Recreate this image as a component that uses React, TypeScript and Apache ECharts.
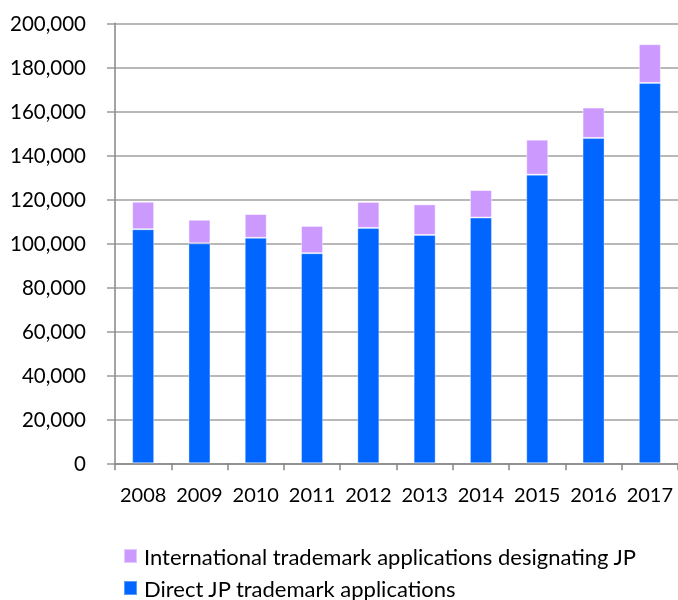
import React, { useEffect, useRef } from "react";
import * as echarts from "echarts";

const years = ["2008", "2009", "2010", "2011", "2012", "2013", "2014", "2015", "2016", "2017"];
const directJP = [106400, 100000, 102500, 95500, 107000, 103800, 111700, 131200, 147900, 172900];
const internationalJP = [12500, 10700, 10800, 12400, 11800, 13900, 12500, 15900, 13800, 17600];
const seriesNames = ["International trademark applications designating JP", "Direct JP trademark applications"];

const FONT = "Lato, 'Noto Sans', sans-serif";

export default function App() {
  const ref = useRef<HTMLDivElement>(null);
  useEffect(() => {
    if (!ref.current) return;
    const chart = echarts.init(ref.current, null, { renderer: "svg" });
    const legendBase = {
      orient: "horizontal",
      left: 123,
      padding: 0,
      itemWidth: 13,
      itemHeight: 14,
      icon: "rect",
      textStyle: { fontFamily: FONT, fontSize: 22, lineHeight: 22, color: "#000", padding: [0, 0, 0, 2] },
    };
    chart.setOption({
      animation: false,
      grid: { left: 115, right: 0, top: 23.3, bottom: 136.7, containLabel: false },
      legend: [
        { ...legendBase, top: 545, data: [seriesNames[0]] },
        { ...legendBase, top: 577, data: [seriesNames[1]] },
      ],
      xAxis: {
        type: "category",
        data: years,
        axisLine: { lineStyle: { color: "#868686", width: 1.5 } },
        axisTick: { show: true, length: 7, lineStyle: { color: "#868686", width: 1.5 } },
        axisLabel: { fontFamily: FONT, fontSize: 20, color: "#000", margin: 21, interval: 0 },
      },
      yAxis: {
        type: "value",
        min: 0,
        max: 200000,
        interval: 20000,
        axisLine: { show: true, lineStyle: { color: "#868686", width: 1.5 } },
        axisTick: { show: true, length: 8, lineStyle: { color: "#999", width: 1.5 } },
        splitLine: { lineStyle: { color: "#a0a0a0", width: 1.5 } },
        axisLabel: {
          fontFamily: FONT,
          fontSize: 20.5,
          color: "#000",
          margin: 29,
          formatter: (v: number) => v.toLocaleString("en-US"),
        },
      },
      series: [
        {
          name: seriesNames[1],
          type: "bar",
          stack: "total",
          barWidth: 22,
          data: directJP,
          itemStyle: { color: "#0066FF", borderColor: "rgba(255,255,255,0.35)", borderWidth: 1 },
        },
        {
          name: seriesNames[0],
          type: "bar",
          stack: "total",
          barWidth: 22,
          data: internationalJP,
          itemStyle: { color: "#CC99FF", borderColor: "rgba(255,255,255,0.45)", borderWidth: 1 },
        },
      ],
    });
    return () => chart.dispose();
  }, []);
  return <div ref={ref} style={{ position: "fixed", left: 0, top: 0, width: 678, height: 600 }} />;
}
